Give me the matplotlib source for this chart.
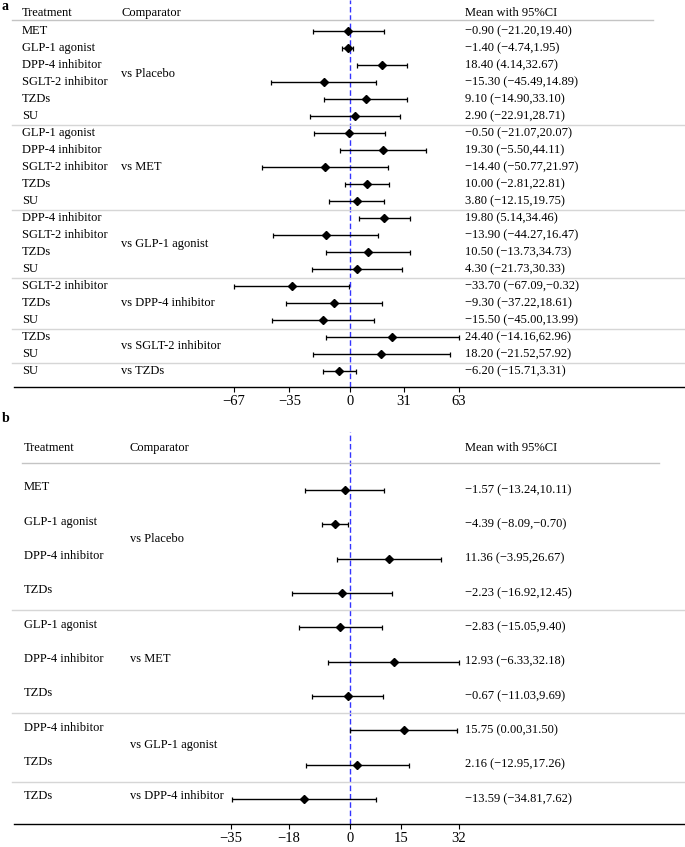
import matplotlib.pyplot as plt
import matplotlib.transforms as mtransforms
import numpy as np

plt.rcParams['font.family'] = ['Liberation Serif', 'DejaVu Serif']

W, H = 685, 847

# ---- panel a data ----
treat_a = ["MET", "GLP-1 agonist", "DPP-4 inhibitor", "SGLT-2 inhibitor", "TZDs", "SU",
           "GLP-1 agonist", "DPP-4 inhibitor", "SGLT-2 inhibitor", "TZDs", "SU",
           "DPP-4 inhibitor", "SGLT-2 inhibitor", "TZDs", "SU",
           "SGLT-2 inhibitor", "TZDs", "SU",
           "TZDs", "SU",
           "SU"]
comp_a = ["vs Placebo", "vs MET", "vs GLP-1 agonist", "vs DPP-4 inhibitor",
          "vs SGLT-2 inhibitor", "vs TZDs"]
size_a = [6, 5, 4, 3, 2, 1]
mean_a = [-0.90, -1.40, 18.40, -15.30, 9.10, 2.90,
          -0.50, 19.30, -14.40, 10.00, 3.80,
          19.80, -13.90, 10.50, 4.30,
          -33.70, -9.30, -15.50,
          24.40, 18.20,
          -6.20]
lo_a = [-21.20, -4.74, 4.14, -45.49, -14.90, -22.91,
        -21.07, -5.50, -50.77, -2.81, -12.15,
        5.14, -44.27, -13.73, -21.73,
        -67.09, -37.22, -45.00,
        -14.16, -21.52,
        -15.71]
hi_a = [19.40, 1.95, 32.67, 14.89, 33.10, 28.71,
        20.07, 44.11, 21.97, 22.81, 19.75,
        34.46, 16.47, 34.73, 30.33,
        -0.32, 18.61, 13.99,
        62.96, 57.92,
        3.31]
ticks_a = [-67, -35, 0, 31, 63]

# ---- panel b data ----
treat_b = ["MET", "GLP-1 agonist", "DPP-4 inhibitor", "TZDs",
           "GLP-1 agonist", "DPP-4 inhibitor", "TZDs",
           "DPP-4 inhibitor", "TZDs",
           "TZDs"]
comp_b = ["vs Placebo", "vs MET", "vs GLP-1 agonist", "vs DPP-4 inhibitor"]
size_b = [4, 3, 2, 1]
mean_b = [-1.57, -4.39, 11.36, -2.23, -2.83, 12.93, -0.67, 15.75, 2.16, -13.59]
lo_b = [-13.24, -8.09, -3.95, -16.92, -15.05, -6.33, -11.03, 0.00, -12.95, -34.81]
hi_b = [10.11, -0.70, 26.67, 12.45, 9.40, 32.18, 9.69, 31.50, 17.26, 7.62]
ticks_b = [-35, -18, 0, 15, 32]

fig = plt.figure(figsize=(W / 100, H / 100), dpi=100)


def fmt(v):
    return f"{v:.2f}".replace("-", "\u2212")


def panel(top, bottom, row0, step, scale, treat, comps, sizes, mean, lo, hi, ticks,
          head_y, head_line, head_x1, head_x2, x_treat, x_comp, lab_dy, letter, letter_y):
    ax = fig.add_axes([0, 1 - bottom / H, 1, (bottom - top) / H])
    rows = np.arange(len(treat))
    ybot = (bottom - row0) / step
    ax.set_ylim(ybot, (top - row0) / step)
    ax.set_xlim(-350 / scale, (W - 350) / scale)
    for s in ax.spines.values():
        s.set_visible(False)
    tr = mtransforms.blended_transform_factory(fig.transFigure, ax.transData)

    mean = np.array(mean)
    ax.axvline(0, color='#3434ff', lw=1, ls=(0, (4, 2)), zorder=1)
    ax.errorbar(mean, rows, xerr=[mean - np.array(lo), np.array(hi) - mean],
                fmt='D', color='black', ms=4.3, capsize=1.8, elinewidth=1,
                capthick=0.9, zorder=3)

    fs = 9
    hy = (head_y - row0) / step
    ax.text(x_treat / W, hy, "Treatment", transform=tr, fontsize=fs, va='center')
    ax.text(x_comp / W, hy, "Comparator", transform=tr, fontsize=fs, va='center')
    ax.text(465 / W, hy, "Mean with 95%CI", transform=tr, fontsize=fs, va='center')
    ax.axhline((head_line - row0) / step, head_x1 / W, head_x2 / W, color='#c4c4c4', lw=1)

    for r, t, m, l, h in zip(rows, treat, mean, lo, hi):
        ax.text(x_treat / W, r + lab_dy, t, transform=tr, fontsize=fs, va='center')
        ax.text(465 / W, r, f"{fmt(m)} ({fmt(l)},{fmt(h)})", transform=tr,
                fontsize=fs, va='center')

    start = 0
    for c, n in zip(comps, sizes):
        ax.text(x_comp / W, start + (n - 1) / 2 + lab_dy, c, transform=tr,
                fontsize=fs, va='center')
        start += n
        if start < len(treat):
            ax.axhline(start - 0.5, 12 / W, 1, color='#d6d6d6', lw=1)

    ax.axhline(ybot, 14 / W, 1, color='black', lw=1, clip_on=False)
    ax.set_yticks([])
    ax.set_xticks(ticks)
    ax.tick_params(axis='x', length=3.5, width=0.8, pad=2, labelsize=10.5)
    fig.text(2 / W, 1 - letter_y / H, letter, fontsize=10, fontweight='bold', va='baseline')
    return ax


panel(0, 387, 31, 17, 1.73, treat_a, comp_a, size_a, mean_a, lo_a, hi_a, ticks_a,
      13, 20, 12, 653, 22, 121, 0, "a", 10)
panel(432, 824, 490, 34.33, 3.4, treat_b, comp_b, size_b, mean_b, lo_b, hi_b, ticks_b,
      448, 463, 22, 659, 24, 130, -0.08, "b", 422)

fig.savefig("out.png", dpi=100)
